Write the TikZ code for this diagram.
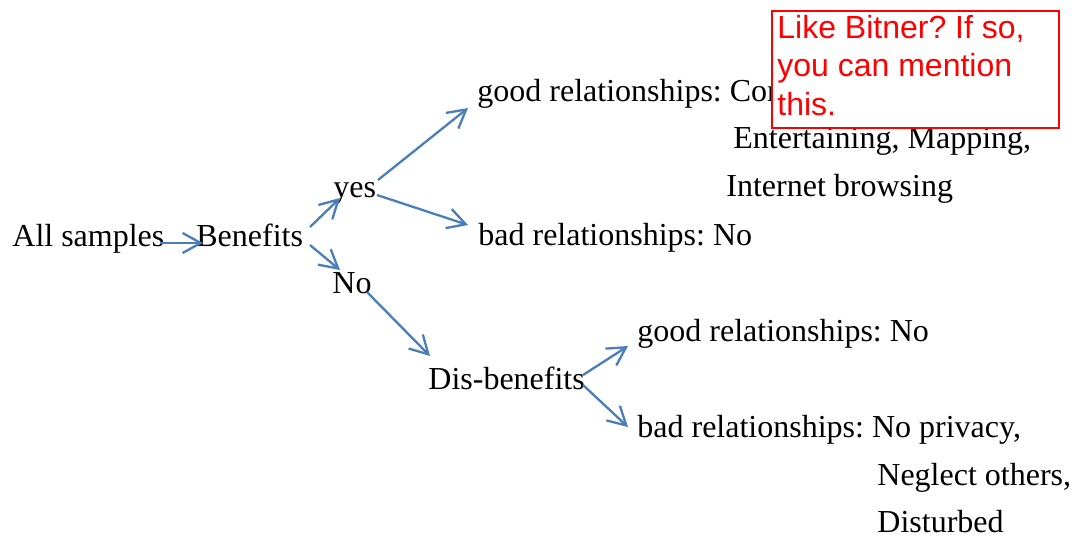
\documentclass[tikz,border=0pt]{standalone}
\usepackage{fontspec}
\setmainfont{Liberation Serif}
\newfontfamily\notefont{Liberation Sans}
\usetikzlibrary{arrows.meta}
\definecolor{lineblue}{HTML}{4A7EBB}
\frenchspacing
\begin{document}
\begin{tikzpicture}[x=0.5pt,y=-0.5pt,
  lbl/.style={anchor=base west, inner sep=0pt, font=\fontsize{16}{19}\selectfont},
  arr/.style={draw=lineblue, line width=1.15pt, -{Straight Barb[length=9pt,width=10pt,line width=1.15pt]}},
  notebox/.style={draw=red, fill=white, line width=1.1pt, anchor=north west, minimum width=143.5pt, minimum height=58.5pt, inner sep=0pt},
  notetext/.style={anchor=north west, inner sep=0pt, align=left, text=red, font=\notefont\fontsize{16}{19.25}\selectfont}]
\useasboundingbox (0,0) rectangle (1075,538);
% text nodes
\node[lbl] (all) at (12,246) {All samples};
\node[lbl] (benefits) at (196,246) {Benefits};
\node[lbl] (yes) at (333,197) {yes};
\node[lbl] (no) at (332,293) {No};
\node[lbl] (good1) at (477,101) {good relationships: Communicating,};
\node[lbl] (ent) at (733,148) {Entertaining, Mapping,};
\node[lbl] (inet) at (726,196) {Internet browsing};
\node[lbl] (bad1) at (478,245) {bad relationships: No};
\node[lbl] (dis) at (428,389) {Dis-benefits};
\node[lbl] (good2) at (637,341) {good relationships: No};
\node[lbl] (bad2) at (637,437) {bad relationships: No privacy,};
\node[lbl] (neg) at (877,485) {Neglect others,};
\node[lbl] (dist) at (877,532) {Disturbed};
% connectors
\draw[arr] ([shift={(148,-3)}]all.base west) -- ([shift={(7,-3)}]benefits.base west);
\draw[arr] ([shift={(114,-19)}]benefits.base west) -- ([shift={(7,1)}]yes.base west);
\draw[arr] ([shift={(114,-1)}]benefits.base west) -- ([shift={(8,-23)}]no.base west);
\draw[arr] ([shift={(45,-17)}]yes.base west) -- ([shift={(-9,7)}]good1.base west);
\draw[arr] ([shift={(44,-2)}]yes.base west) -- ([shift={(-10,-20)}]bad1.base west);
\draw[arr] ([shift={(35,-1)}]no.base west) -- ([shift={(2,-33)}]dis.base west);
\draw[arr] ([shift={(155,-14)}]dis.base west) -- ([shift={(-9,5)}]good2.base west);
\draw[arr] ([shift={(155,-4)}]dis.base west) -- ([shift={(-9,-10)}]bad2.base west);
% comment box
\node[notebox] (box) at (771,10) {};
\node[notetext] (note) at (777,14.7) {Like Bitner? If so,\\you can mention\\this.};
\end{tikzpicture}
\end{document}
